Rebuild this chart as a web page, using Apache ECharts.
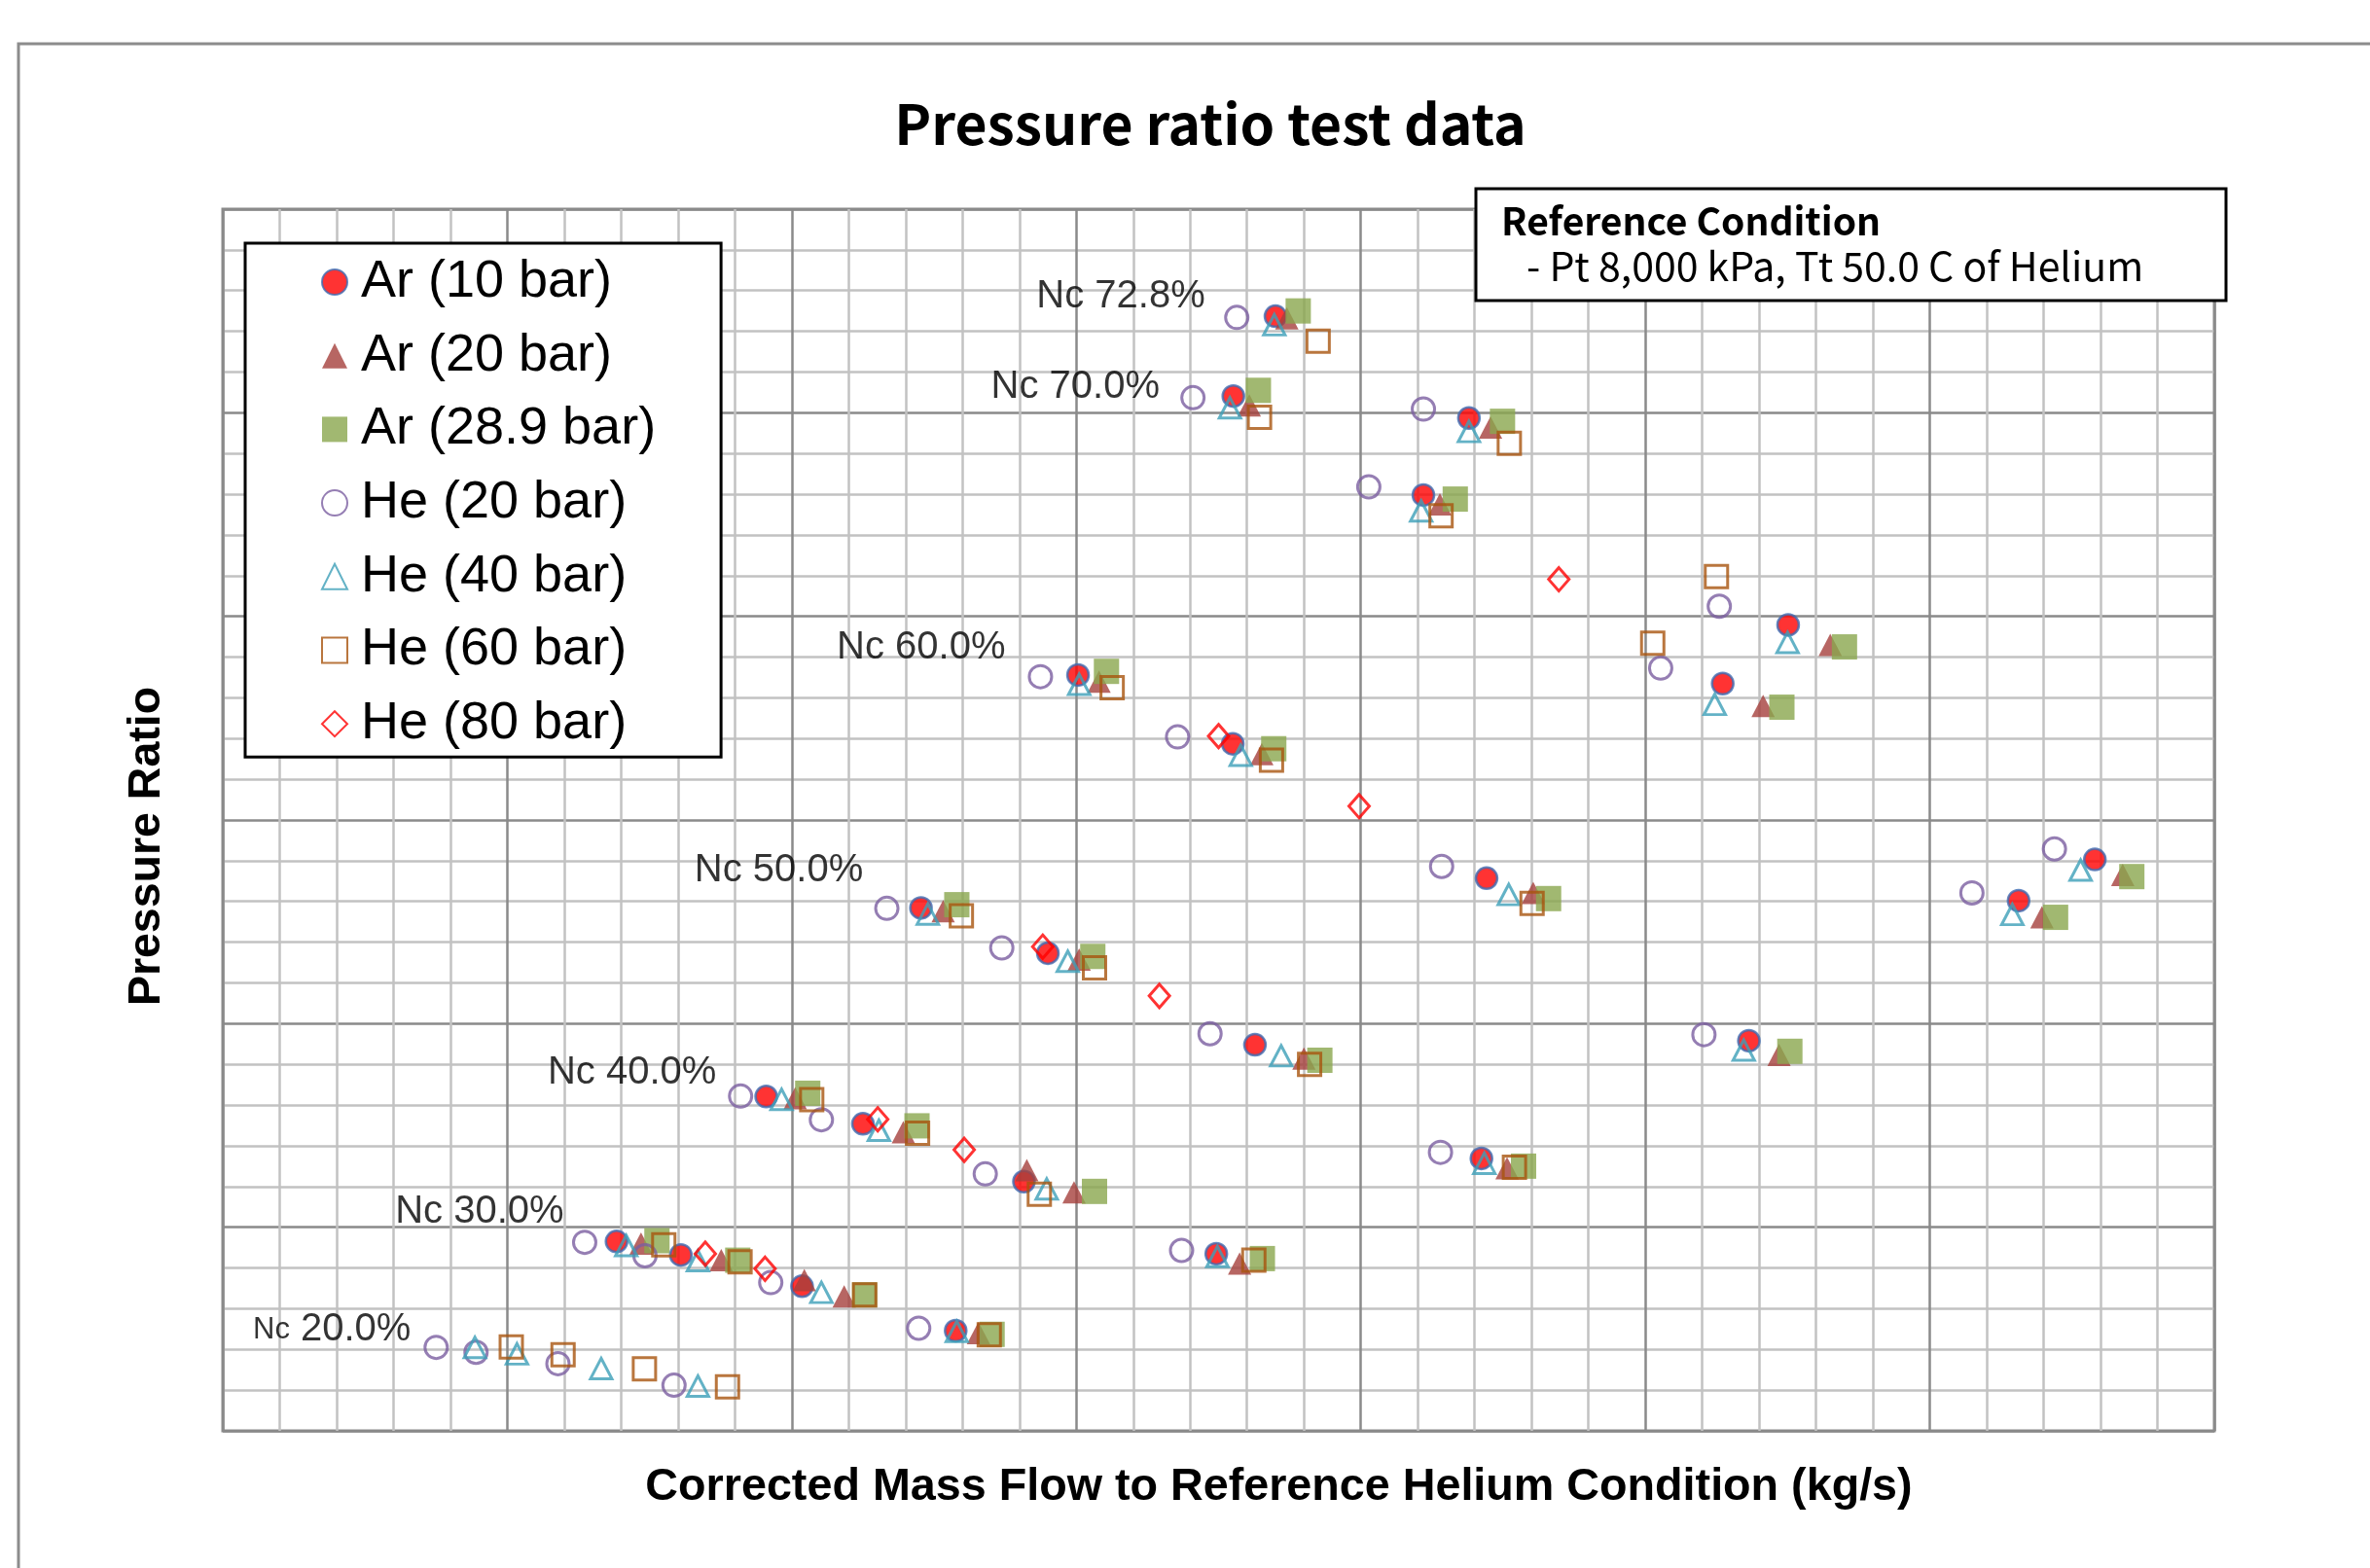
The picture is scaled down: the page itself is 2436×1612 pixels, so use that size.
<!DOCTYPE html>
<html><head><meta charset="utf-8">
<script src="https://cdn.jsdelivr.net/npm/echarts@6/dist/echarts.min.js"></script>
<style>html,body{margin:0;padding:0;background:#fff}#c{width:2436px;height:1612px}</style>
</head><body><div id="c"></div>
<script>
// ---- data (axis units: minor grid divisions) ----
const ar10X = [6.92, 8.05, 10.18, 12.88, 9.55, 11.25, 14.08, 17.46, 12.27, 14.50, 18.14, 22.12, 15.03, 17.75, 22.21, 26.82, 18.50, 21.90, 17.76, 21.10, 27.51, 26.36, 32.90, 31.56];
const ar10Y = [4.65, 4.32, 3.55, 2.46, 8.21, 7.54, 6.12, 4.35, 12.84, 11.73, 9.48, 6.69, 18.56, 16.87, 13.57, 9.58, 27.37, 24.87, 25.41, 22.98, 19.79, 18.35, 14.03, 13.02];

const ar20X = [7.35, 8.76, 10.22, 10.92, 13.28, 10.06, 11.96, 14.13, 14.96, 17.87, 12.66, 15.05, 19.00, 22.57, 15.40, 18.26, 23.03, 27.35, 18.70, 22.28, 18.04, 21.39, 28.25, 27.07, 33.39, 31.97];
const ar20Y = [4.60, 4.19, 3.70, 3.30, 2.40, 8.17, 7.33, 6.40, 5.86, 4.11, 12.76, 11.57, 9.14, 6.45, 18.40, 16.62, 13.21, 9.23, 27.32, 24.64, 25.18, 22.75, 19.30, 17.80, 13.65, 12.61];

const ar29X = [7.63, 9.05, 11.28, 13.52, 10.28, 12.20, 15.32, 18.27, 12.90, 15.29, 19.28, 22.86, 15.53, 18.47, 23.30, 27.54, 18.90, 22.49, 18.20, 21.66, 28.50, 27.40, 33.55, 32.21];
const ar29Y = [4.67, 4.19, 3.34, 2.37, 8.29, 7.49, 5.88, 4.23, 12.92, 11.65, 9.10, 6.50, 18.65, 16.75, 13.07, 9.32, 27.50, 24.79, 25.55, 22.88, 19.25, 17.77, 13.61, 12.61];

const he20X = [3.75, 4.45, 5.89, 7.93, 6.36, 7.42, 9.63, 12.23, 9.10, 10.52, 13.40, 16.85, 11.67, 13.69, 17.35, 21.40, 14.37, 16.78, 21.42, 26.03, 17.82, 17.05, 21.10, 20.14, 26.30, 25.27, 32.19, 30.74];
const he20Y = [2.05, 1.93, 1.65, 1.12, 4.63, 4.30, 3.64, 2.52, 8.22, 7.64, 6.31, 4.43, 12.83, 11.86, 9.75, 6.84, 18.52, 17.04, 13.86, 9.73, 27.34, 25.37, 25.09, 23.18, 20.25, 18.73, 14.29, 13.21];

const he40X = [4.43, 5.17, 6.65, 8.35, 7.09, 8.35, 10.52, 12.90, 9.82, 11.53, 14.48, 17.48, 12.39, 14.85, 18.60, 22.17, 15.05, 17.89, 22.60, 26.73, 18.48, 17.70, 21.90, 21.06, 27.50, 26.22, 32.65, 31.45];
const he40Y = [2.05, 1.89, 1.53, 1.10, 4.55, 4.18, 3.40, 2.44, 8.14, 7.38, 5.94, 4.28, 12.69, 11.53, 9.21, 6.57, 18.33, 16.59, 13.17, 9.35, 27.16, 25.12, 24.54, 22.59, 19.36, 17.84, 13.77, 12.68];

const he60X = [5.07, 5.98, 7.41, 8.87, 7.75, 9.09, 11.28, 13.47, 10.35, 12.21, 14.35, 18.12, 12.98, 15.32, 19.10, 22.70, 15.63, 18.43, 23.01, 19.25, 18.22, 22.61, 21.41, 26.25, 25.13];
const he60Y = [2.06, 1.87, 1.52, 1.08, 4.57, 4.15, 3.34, 2.36, 8.13, 7.31, 5.81, 4.19, 12.65, 11.37, 9.00, 6.47, 18.25, 16.47, 12.95, 26.76, 24.89, 24.25, 22.47, 20.98, 19.34];

const he80X = [8.48, 9.53, 11.51, 13.03, 14.41, 16.46, 17.50, 19.97, 23.48];
const he80Y = [4.35, 3.98, 7.65, 6.90, 11.89, 10.68, 17.06, 15.34, 20.91];

const seriesNames = ['Ar (10 bar)', 'Ar (20 bar)', 'Ar (28.9 bar)', 'He (20 bar)', 'He (40 bar)', 'He (60 bar)', 'He (80 bar)'];

const ncText = ['Nc 72.8%', 'Nc 70.0%', 'Nc 60.0%', 'Nc 50.0%', 'Nc 40.0%', 'Nc 30.0%', 'Nc 20.0%'];
const ncX = [14.30, 13.50, 10.79, 8.29, 5.71, 3.03, 0.53];
const ncY = [27.85, 25.62, 19.24, 13.76, 8.79, 5.38, 2.48];

const titleText = 'Pressure ratio test data';
const xName = 'Corrected Mass Flow to Reference Helium Condition (kg/s)';
const yName = 'Pressure Ratio';
const refTitle = 'Reference Condition';
const refLine = '- Pt 8,000 kPa, Tt 50.0 C of Helium';

// ---- build ----
const zip = (xs, ys) => xs.map((x, i) => [x, ys[i]]);
const AR = "'Liberation Sans', Arial, sans-serif";
const KR = "'Noto Sans CJK KR', 'Noto Sans', sans-serif";

function sc(name, data, symbol, size, style) {
  return { type: 'scatter', name, data, symbol, symbolSize: size, itemStyle: style, silent: true, animation: false };
}

const ncData = ncText.map((t, i) => {
  const d = { name: t, value: [ncX[i], ncY[i]] };
  if (t === 'Nc 20.0%') {
    d.label = { formatter: '{s|Nc} {b|20.0%}' };
  }
  return d;
});

const chart = echarts.init(document.getElementById('c'), null, { renderer: 'canvas' });
chart.setOption({
  backgroundColor: '#fff',
  animation: false,
  title: {
    text: titleText, left: 1244, top: 127, textAlign: 'center', textVerticalAlign: 'middle', padding: 0,
    textStyle: { fontFamily: KR, fontWeight: 'bold', fontSize: 57, color: '#000' }
  },
  grid: { left: 229, top: 215, right: 160, bottom: 141, show: true, borderColor: '#8a8a8a', borderWidth: 3, containLabel: false },
  xAxis: {
    type: 'value', min: 0, max: 35, interval: 5,
    name: xName, nameLocation: 'middle', nameGap: 35,
    nameTextStyle: { fontFamily: AR, fontWeight: 'bold', fontSize: 46.7, color: '#000', padding: [0, 0, 0, 124] },
    axisLine: { show: false }, axisTick: { show: false }, axisLabel: { show: false },
    splitLine: { show: true, lineStyle: { color: '#8a8a8a', width: 2.5 } },
    minorTick: { show: false, splitNumber: 5 },
    minorSplitLine: { show: true, lineStyle: { color: '#c2c2c2', width: 2.5 } }
  },
  yAxis: {
    type: 'value', min: 0, max: 30, interval: 5,
    name: yName, nameLocation: 'middle', nameGap: 54, nameRotate: 90,
    nameTextStyle: { fontFamily: AR, fontWeight: 'bold', fontSize: 46.5, color: '#000', padding: [0, 54, 0, 0] },
    axisLine: { show: false }, axisTick: { show: false }, axisLabel: { show: false },
    splitLine: { show: true, lineStyle: { color: '#8a8a8a', width: 2.5 } },
    minorTick: { show: false, splitNumber: 5 },
    minorSplitLine: { show: true, lineStyle: { color: '#c2c2c2', width: 2.5 } }
  },
  legend: {
    data: seriesNames, orient: 'vertical', left: 252, top: 250,
    padding: [10, 67, 4, 78], itemGap: 15.7, itemWidth: 26, itemHeight: 26,
    backgroundColor: '#fff', borderColor: '#000', borderWidth: 3, selectedMode: false,
    textStyle: { fontFamily: AR, fontSize: 54, color: '#000', lineHeight: 60, padding: [0, 0, 0, 9] },
    z: 10
  },
  series: [
    sc(seriesNames[0], zip(ar10X, ar10Y), 'circle', 22, { color: '#ff0000', borderColor: '#3f6db3', borderWidth: 2.5 }),
    sc(seriesNames[1], zip(ar20X, ar20Y), 'triangle', [24, 23], { color: '#a5403c' }),
    sc(seriesNames[2], zip(ar29X, ar29Y), 'rect', 26, { color: '#89a64d' }),
    sc(seriesNames[3], zip(he20X, he20Y), 'circle', 23, { color: 'rgba(255,255,255,0)', borderColor: '#7a5ea0', borderWidth: 3 }),
    sc(seriesNames[4], zip(he40X, he40Y), 'triangle', [22, 21], { color: 'rgba(255,255,255,0)', borderColor: '#3c9fb8', borderWidth: 3 }),
    sc(seriesNames[5], zip(he60X, he60Y), 'rect', 23, { color: 'rgba(255,255,255,0)', borderColor: '#a8540e', borderWidth: 3 }),
    sc(seriesNames[6], zip(he80X, he80Y), 'diamond', [21, 24], { color: 'rgba(255,255,255,0)', borderColor: '#ff0000', borderWidth: 3 }),
    {
      type: 'scatter', name: 'Nc', data: ncData, symbolSize: 0, silent: true, animation: false, z: 5,
      label: {
        show: true, position: 'right', distance: 0, formatter: '{b}',
        fontFamily: AR, fontSize: 40, color: '#000',
        rich: { s: { fontFamily: AR, fontSize: 31, color: '#000' }, b: { fontFamily: AR, fontSize: 40, color: '#000' } }
      }
    }
  ],
  graphic: [
    { type: 'rect', z: -10, silent: true, shape: { x: 19, y: 45, width: 3000, height: 3000 }, style: { fill: 'none', stroke: '#8c8c8c', lineWidth: 3 } },
    { type: 'rect', z: 100, silent: true, shape: { x: 1517, y: 194, width: 771, height: 115 }, style: { fill: '#fff', stroke: '#000', lineWidth: 3 } },
    { type: 'text', z: 101, silent: true, x: 1543, y: 227, style: { text: refTitle, fontFamily: KR, fontWeight: 'bold', fontSize: 39, fill: '#000', verticalAlign: 'middle', align: 'left' } },
    { type: 'text', z: 101, silent: true, x: 1569, y: 273, style: { text: refLine, fontFamily: KR, fontSize: 41, fill: '#000', verticalAlign: 'middle', align: 'left' } }
  ]
});
</script></body></html>
